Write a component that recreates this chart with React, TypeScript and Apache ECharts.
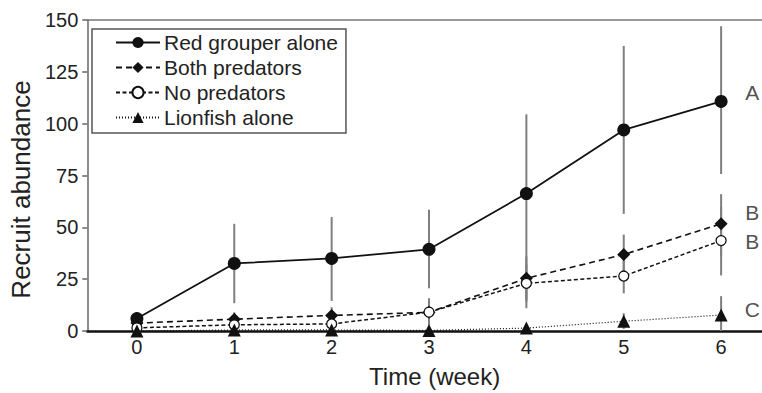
import React, { useEffect, useRef } from "react";
import * as echarts from "echarts";

const weeks = [0, 1, 2, 3, 4, 5, 6];
const xTickLabels = [0, 1, 2, 3, 4, 5, 6];
const yTicks = [0, 25, 50, 75, 100, 125, 150];

const seriesNames = ["Red grouper alone", "Both predators", "No predators", "Lionfish alone"];

const redGrouper = [6, 32.6, 35, 39.4, 66.3, 97, 110.7];
const redLow = [3, 13.4, 14.5, 20.6, 11, 56.5, 75.7];
const redHigh = [9, 51.7, 55, 58.5, 104.5, 137.5, 147];

const bothPred = [3.8, 5.7, 7.5, 9, 25.4, 36.9, 51.7];
const bothLow = [1.5, 2.5, 3.5, 3, 15, 27.5, 36];
const bothHigh = [6, 9, 11.5, 15.8, 36, 46.5, 66];

const noPred = [1.5, 3, 3.4, 9.1, 23, 26.5, 43.6];
const noLow = [0, 1, 1, 3, 14, 18.2, 26.8];
const noHigh = [3, 5, 6, 15, 32, 35, 60];

const lionfish = [0, 0.5, 0.5, 0.3, 1.4, 4.7, 7.7];
const lionLow = [0, 0, 0, 0, 0, 1, 0];
const lionHigh = [0.5, 1, 1, 1, 3, 8.6, 16.8];

const letterX = 6.32;
const letters = ["A", "B", "B", "C"];
const letterY = [115, 57, 43.1, 10.5];

const FONT = "Liberation Sans, Arial, Helvetica, sans-serif";

export default function App() {
  const ref = useRef<HTMLDivElement>(null);
  useEffect(() => {
    document.body.style.margin = "0";
    if (!ref.current) return;
    const chart = echarts.init(ref.current, null, { renderer: "svg" });
    const pairs = (ys: number[]) => weeks.map((w, i) => [w, ys[i]]);
    const errData: number[][] = [];
    const groups = [
      [redLow, redHigh],
      [bothLow, bothHigh],
      [noLow, noHigh],
      [lionLow, lionHigh],
    ];
    groups.forEach(([lo, hi]) => {
      weeks.forEach((w, i) => errData.push([w, lo[i], hi[i]]));
    });

    const xMin = -0.51;
    const xMax = 6.42;

    chart.setOption({
      animation: false,
      textStyle: { fontFamily: FONT },
      grid: { left: 83, right: 0, top: 20, bottom: 60 },
      legend: {
        data: seriesNames,
        orient: "vertical",
        left: 92,
        top: 29,
        itemWidth: 44,
        itemHeight: 14,
        itemGap: 4,
        padding: [3, 8, 5, 23],
        borderColor: "#555",
        borderWidth: 1.5,
        textStyle: { fontSize: 21, color: "#222", fontFamily: FONT, padding: [0, 0, 0, -1] },
      },
      xAxis: [
        {
          type: "value",
          min: xMin,
          max: xMax,
          name: "Time (week)",
          nameLocation: "middle",
          nameGap: 33,
          nameTextStyle: { fontSize: 24, color: "#222", fontFamily: FONT, padding: [0, 0, 0, 20] },
          axisLine: { show: true, onZero: false, lineStyle: { color: "#111", width: 2.5 } },
          axisTick: { show: false },
          splitLine: { show: false },
          axisLabel: {
            customValues: xTickLabels,
            fontSize: 20,
            color: "#222",
            margin: 6,
            fontFamily: FONT,
          },
        },
        {
          type: "value",
          position: "top",
          min: xMin,
          max: xMax,
          axisLine: { show: true, onZero: false, lineStyle: { color: "#777", width: 1.5 } },
          axisTick: { show: false },
          axisLabel: { show: false },
          splitLine: { show: false },
        },
      ],
      yAxis: {
        type: "value",
        min: 0,
        max: 150,
        interval: 25,
        name: "Recruit abundance",
        nameLocation: "middle",
        nameGap: 50,
        nameTextStyle: { fontSize: 26, color: "#222", fontFamily: FONT, padding: [0, 28, 0, 0] },
        axisLine: { show: true, onZero: false, lineStyle: { color: "#666", width: 1.5 } },
        axisTick: { show: true, length: 5, lineStyle: { color: "#666", width: 1.5 } },
        splitLine: { show: false },
        axisLabel: {
          customValues: yTicks,
          fontSize: 20,
          color: "#222",
          margin: 9,
          fontFamily: FONT,
        },
      },
      series: [
        {
          type: "custom",
          name: "errors",
          z: 1,
          data: errData,
          encode: { x: 0, y: [1, 2] },
          renderItem: (params: any, api: any) => {
            const x = api.value(0);
            const p1 = api.coord([x, api.value(1)]);
            const p2 = api.coord([x, api.value(2)]);
            return {
              type: "line",
              shape: { x1: p1[0], y1: p1[1], x2: p2[0], y2: p2[1] },
              style: { stroke: "#7f7f7f", lineWidth: 2 },
            };
          },
        },
        {
          type: "line",
          name: seriesNames[0],
          z: 3,
          data: pairs(redGrouper),
          symbol: "circle",
          symbolSize: 13,
          itemStyle: { color: "#111" },
          lineStyle: { color: "#111", width: 1.8, type: "solid" },
        },
        {
          type: "line",
          name: seriesNames[1],
          z: 3,
          data: pairs(bothPred),
          symbol: "diamond",
          symbolSize: 13,
          itemStyle: { color: "#111" },
          lineStyle: { color: "#111", width: 1.6, type: [6, 4] },
        },
        {
          type: "line",
          name: seriesNames[2],
          z: 3,
          data: pairs(noPred),
          symbol: "circle",
          symbolSize: 10,
          itemStyle: { color: "#fff", borderColor: "#111", borderWidth: 1.3 },
          lineStyle: { color: "#111", width: 1.5, type: [4, 2.5] },
        },
        {
          type: "line",
          name: seriesNames[3],
          z: 3,
          data: pairs(lionfish),
          symbol: "triangle",
          symbolSize: 13,
          itemStyle: { color: "#111" },
          lineStyle: { color: "#111", width: 1.2, type: [1, 2] },
        },
        {
          type: "scatter",
          name: "letters",
          z: 4,
          symbolSize: 1,
          itemStyle: { color: "rgba(0,0,0,0)" },
          data: letters.map((l, i) => [letterX, letterY[i], l]),
          label: {
            show: true,
            position: "inside",
            formatter: (p: any) => p.value[2],
            fontSize: 21,
            color: "#222",
            fontFamily: FONT,
          },
        },
      ],
    });
    return () => chart.dispose();
  }, []);
  return <div ref={ref} style={{ width: 762, height: 393 }} />;
}
